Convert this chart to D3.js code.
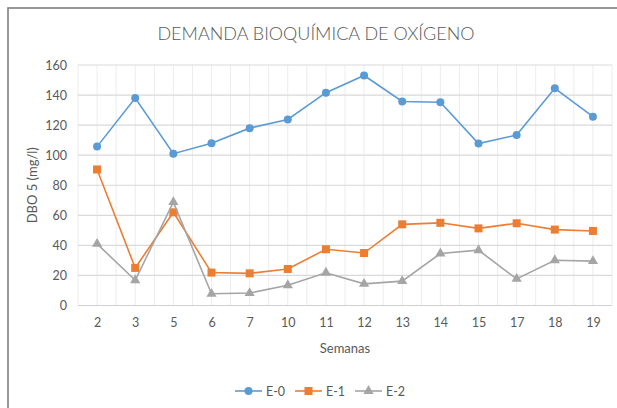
<!DOCTYPE html>
<html>
<head>
<meta charset="utf-8">
<script src="https://cdn.jsdelivr.net/npm/d3@7"></script>
<style>
  body { margin: 0; background: #fff; }
  text { font-family: Lato, "Open Sans", sans-serif; fill: #595959; }
</style>
</head>
<body>
<svg id="chart" width="617" height="408"></svg>
<script>
// data
const weeks = ["2", "3", "5", "6", "7", "10", "11", "12", "13", "14", "15", "17", "18", "19"];
const e0 = [105.7, 138, 101, 108, 118, 123.8, 141.6, 153, 135.7, 135.2, 107.7, 113.4, 144.5, 125.6];
const e1 = [90.5, 25, 62, 21.9, 21.4, 24.3, 37.4, 34.9, 54, 55, 51.3, 54.7, 50.5, 49.6];
const e2 = [41, 16.8, 68.8, 7.8, 8.3, 13.5, 21.8, 14.4, 16.2, 34.6, 36.8, 17.7, 30.1, 29.5];
const yTicks = [0, 20, 40, 60, 80, 100, 120, 140, 160];

const series = [
  {name: "E-0", values: e0, color: "#5B9BD5", shape: "circle"},
  {name: "E-1", values: e1, color: "#ED7D31", shape: "square"},
  {name: "E-2", values: e2, color: "#A5A5A5", shape: "triangle"}
];

const svg    = d3.select("#chart"),
      margin = {top: 65, right: 5, bottom: 102.5, left: 78},
      width  = +svg.attr("width")  - margin.left - margin.right,
      height = +svg.attr("height") - margin.top  - margin.bottom,
      x      = d3.scalePoint().domain(weeks).range([0, width]).padding(0.5),
      y      = d3.scaleLinear().domain([0, 160]).range([height, 0]);

// outer chart frame (runs off the right and bottom edges)
svg.append("rect")
  .attr("x", 8).attr("y", 8)
  .attr("width", 640).attr("height", 440)
  .attr("fill", "none")
  .attr("stroke", "#7f7f7f")
  .attr("stroke-width", 1.6);

const g = svg.append("g").attr("transform", `translate(${margin.left},${margin.top})`);

// vertical gridlines: category boundaries and centres
const step = x.step();
const vLines = d3.range(0, weeks.length * 2 + 1).map(i => i * step / 2);
g.selectAll(".vgrid")
  .data(vLines)
  .enter().append("line")
    .attr("x1", d => d).attr("x2", d => d)
    .attr("y1", 0).attr("y2", height)
    .attr("stroke", "#ececec")
    .attr("stroke-width", 1);

// horizontal gridlines
g.selectAll(".hgrid")
  .data(yTicks)
  .enter().append("line")
    .attr("x1", 0).attr("x2", width)
    .attr("y1", d => y(d)).attr("y2", d => y(d))
    .attr("stroke", d => d === 0 ? "#d0d0d0" : "#d9d9d9")
    .attr("stroke-width", 1.2);

// y axis labels
const yAxis = g.append("g").call(d3.axisLeft(y).tickValues(yTicks).tickSize(0).tickPadding(11));
yAxis.select(".domain").remove();
yAxis.selectAll("text")
  .style("font-family", "Lato, sans-serif")
  .style("font-size", "12.5px")
  .attr("fill", "#595959");

// x axis labels
const xAxis = g.append("g")
  .attr("transform", `translate(0,${height})`)
  .call(d3.axisBottom(x).tickSize(0).tickPadding(13));
xAxis.select(".domain").remove();
xAxis.selectAll("text")
  .style("font-family", "Lato, sans-serif")
  .style("font-size", "12.5px")
  .attr("fill", "#595959");

function marker(sel, shape, color) {
  if (shape === "circle") {
    sel.append("circle").attr("r", 4).attr("fill", color);
  } else if (shape === "square") {
    sel.append("rect").attr("x", -4).attr("y", -4).attr("width", 8).attr("height", 8).attr("fill", color);
  } else {
    sel.append("path").attr("d", d3.symbol().type(d3.symbolTriangle).size(45)).attr("fill", color);
  }
}

const line = d3.line().x((d, i) => x(weeks[i])).y(d => y(d));

series.forEach(s => {
  g.append("path")
    .datum(s.values)
    .attr("fill", "none")
    .attr("stroke", s.color)
    .attr("stroke-width", 1.6)
    .attr("d", line);

  g.selectAll(".pt-" + s.shape)
    .data(s.values)
    .enter().append("g")
      .attr("transform", (d, i) => `translate(${x(weeks[i])},${y(d)})`)
      .each(function() { marker(d3.select(this), s.shape, s.color); });
});

// title
svg.append("text")
  .attr("x", 316)
  .attr("y", 40)
  .attr("text-anchor", "middle")
  .style("font-size", "18px")
  .style("font-weight", 300)
  .text("DEMANDA BIOQUÍMICA DE OXÍGENO");

// axis titles
svg.append("text")
  .attr("transform", `translate(37,${margin.top + height / 2}) rotate(-90)`)
  .attr("text-anchor", "middle")
  .style("font-size", "13px")
  .text("DBO 5 (mg/l)");

svg.append("text")
  .attr("x", margin.left + width / 2)
  .attr("y", 353)
  .attr("text-anchor", "middle")
  .style("font-size", "13px")
  .text("Semanas");

// legend
const legendX = [235, 295, 355];
series.forEach((s, i) => {
  const lg = svg.append("g").attr("transform", `translate(${legendX[i]},391)`);
  lg.append("line")
    .attr("x1", 0).attr("x2", 27)
    .attr("stroke", s.color)
    .attr("stroke-width", 1.6);
  marker(lg.append("g").attr("transform", "translate(13.5,0)"), s.shape, s.color);
  lg.append("text")
    .attr("x", 31)
    .attr("y", 4.5)
    .style("font-size", "12.5px")
    .text(s.name);
});
</script>
</body>
</html>
